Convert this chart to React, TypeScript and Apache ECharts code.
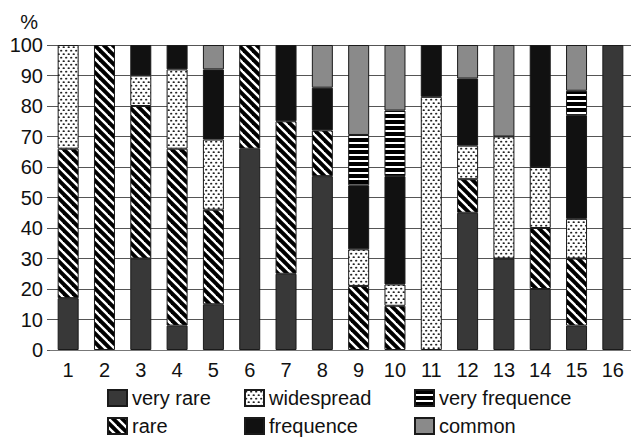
import React, { useEffect, useRef } from "react";
import * as echarts from "echarts";

const categories = ["1", "2", "3", "4", "5", "6", "7", "8", "9", "10", "11", "12", "13", "14", "15", "16"];
const veryRare = [17, 0, 30, 8, 15, 66, 25, 57, 0, 0, 0, 45, 30, 20, 8, 100];
const rare = [49, 100, 50, 58, 31, 34, 50, 15, 21, 14.5, 0, 11, 0, 20, 22, 0];
const widespread = [34, 0, 10, 26, 23, 0, 0, 0, 12, 7, 83, 11, 40, 20, 13, 0];
const frequence = [0, 0, 10, 8, 23, 0, 25, 14, 21, 35.5, 17, 22, 0, 40, 34, 0];
const veryFrequence = [0, 0, 0, 0, 0, 0, 0, 0, 16.5, 21.5, 0, 0, 0, 0, 8, 0];
const common = [0, 0, 0, 0, 8, 0, 0, 14, 29.5, 21.5, 0, 11, 30, 0, 15, 0];
const seriesNames = ["very rare", "rare", "widespread", "frequence", "very frequence", "common"];
const yTicks = [0, 10, 20, 30, 40, 50, 60, 70, 80, 90, 100];

function tile(w: number, h: number, draw: (ctx: CanvasRenderingContext2D) => void) {
  const c = document.createElement("canvas");
  c.width = w;
  c.height = h;
  const ctx = c.getContext("2d") as CanvasRenderingContext2D;
  draw(ctx);
  return { image: c, repeat: "repeat", imageWidth: w, imageHeight: h };
}

export default function App() {
  const ref = useRef<HTMLDivElement>(null);
  useEffect(() => {
    if (!ref.current) return;
    const chart = echarts.init(ref.current, null, { renderer: "svg" });

    const rarePattern = tile(9, 9, (ctx) => {
      ctx.fillStyle = "#000";
      ctx.fillRect(0, 0, 9, 9);
      ctx.strokeStyle = "#fff";
      ctx.lineWidth = 2.4;
      for (const c of [-9, 0, 9]) {
        ctx.beginPath();
        ctx.moveTo(-2, c - 2);
        ctx.lineTo(11, c + 11);
        ctx.stroke();
      }
    });
    const widePattern = tile(5, 7, (ctx) => {
      ctx.fillStyle = "#fff";
      ctx.fillRect(0, 0, 5, 7);
      ctx.fillStyle = "#222";
      const dots = [[1.2, 1.7], [3.7, 5.2]];
      for (const [x, y] of dots) {
        ctx.beginPath();
        ctx.ellipse(x, y, 1.15, 0.85, 0, 0, Math.PI * 2);
        ctx.fill();
      }
    });
    const vfPattern = tile(4, 6, (ctx) => {
      ctx.fillStyle = "#fff";
      ctx.fillRect(0, 0, 4, 6);
      ctx.fillStyle = "#000";
      ctx.fillRect(0, 0, 4, 4);
    });

    const colors: any[] = ["#383838", rarePattern, widePattern, "#111111", vfPattern, "#8a8a8a"];
    const values = [veryRare, rare, widespread, frequence, veryFrequence, common];
    const font = "'Liberation Sans', Arial, sans-serif";

    const series = seriesNames.map((name, i) => ({
      name,
      type: "bar",
      stack: "total",
      barWidth: 21,
      data: values[i].map((v) => (v === 0 ? null : v)),
      itemStyle: { color: colors[i], borderColor: "#1a1a1a", borderWidth: 1 },
    }));

    const legendBase = {
      orient: "vertical",
      top: 388,
      height: 80,
      padding: 0,
      itemWidth: 19,
      itemHeight: 16,
      itemGap: 8,
      icon: "rect",
      textStyle: { fontSize: 20, fontFamily: font, color: "#111", lineHeight: 20 },
    };

    chart.setOption({
      animation: false,
      backgroundColor: "#fff",
      grid: { left: 50, right: -8, top: 45, bottom: 89, containLabel: false },
      legend: [
        { ...legendBase, left: 107, data: ["very rare", "rare"] },
        { ...legendBase, left: 244, data: ["widespread", "frequence"] },
        { ...legendBase, left: 414, data: ["very frequence", "common"] },
      ],
      xAxis: {
        type: "category",
        data: categories,
        axisLine: { show: true, lineStyle: { color: "#777", width: 1 } },
        axisTick: { show: false },
        axisLabel: { fontSize: 20, fontFamily: font, color: "#111", margin: 10 },
      },
      yAxis: {
        type: "value",
        min: yTicks[0],
        max: yTicks[yTicks.length - 1],
        interval: 10,
        name: "%",
        nameLocation: "end",
        nameGap: 13,
        nameTextStyle: { fontSize: 20, fontFamily: font, color: "#111", align: "right", padding: [0, 12, 0, 0] },
        axisLine: { show: false },
        axisTick: { show: true, length: 3, lineStyle: { color: "#555" } },
        axisLabel: { fontSize: 20, fontFamily: font, color: "#111", margin: 7 },
        splitLine: { show: true, lineStyle: { color: "#555", width: 1 } },
      },
      series,
    });
    return () => chart.dispose();
  }, []);
  return <div ref={ref} style={{ width: 631, height: 439, position: "absolute", left: 0, top: 0 }} />;
}
